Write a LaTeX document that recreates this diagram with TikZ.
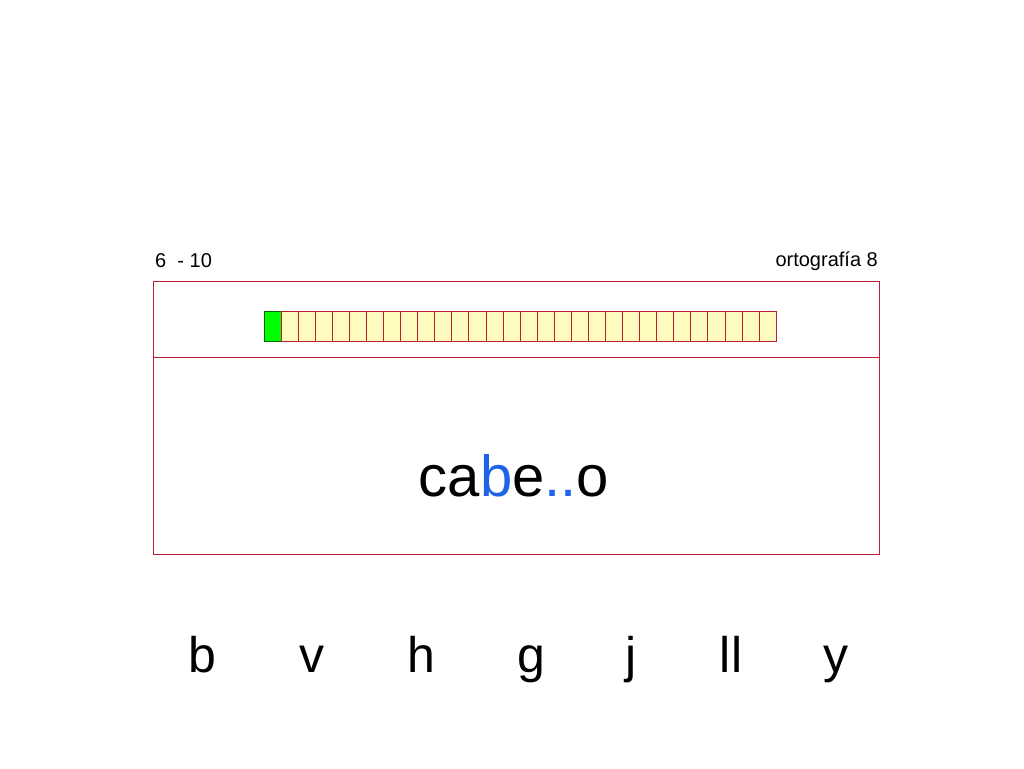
\documentclass[tikz,border=0pt]{standalone}
\usepackage{fontspec}
\setmainfont{Liberation Sans}
\definecolor{frame}{RGB}{190,30,50}
\definecolor{cell}{RGB}{255,250,190}
\definecolor{blu}{RGB}{30,100,230}
\begin{document}
\begin{tikzpicture}[x=1pt,y=-1pt,
  lbl/.style={inner sep=0pt,font=\fontsize{20}{22}\selectfont},
  big/.style={inner sep=0pt,font=\fontsize{58}{60}\selectfont},
  letter/.style={inner sep=0pt,anchor=base,font=\fontsize{50}{52}\selectfont}]
\useasboundingbox (0,0) rectangle (1024,768);
\draw[frame,line width=1pt] (153,281) rectangle (879,554);
\draw[frame,line width=1pt] (153,357) -- (879,357);
\foreach \i in {0,...,29}{
  \pgfmathsetmacro\xa{264+\i*17.07}
  \pgfmathsetmacro\xb{264+(\i+1)*17.07}
  \ifnum\i=0
    \draw[fill=green,draw=black!60!green] (\xa,311) rectangle (\xb,341);
  \else
    \draw[fill=cell,draw=frame,line width=0.8pt] (\xa,311) rectangle (\xb,341);
  \fi
}
\node[lbl,anchor=west] (num) at (155,261) {6\ \ - 10};
\node[lbl,anchor=east] (tit) at (878,261) {ortografía 8};
\node[big] (word) at (514,476) {ca\textcolor{blu}{b}e\textcolor{blu}{..}o};
\foreach \l/\x [count=\k] in {b/202,v/312,h/421,g/531,j/631,ll/731,y/836}
  \node[letter] (L\k) at (\x,672) {\l};
\end{tikzpicture}
\end{document}
